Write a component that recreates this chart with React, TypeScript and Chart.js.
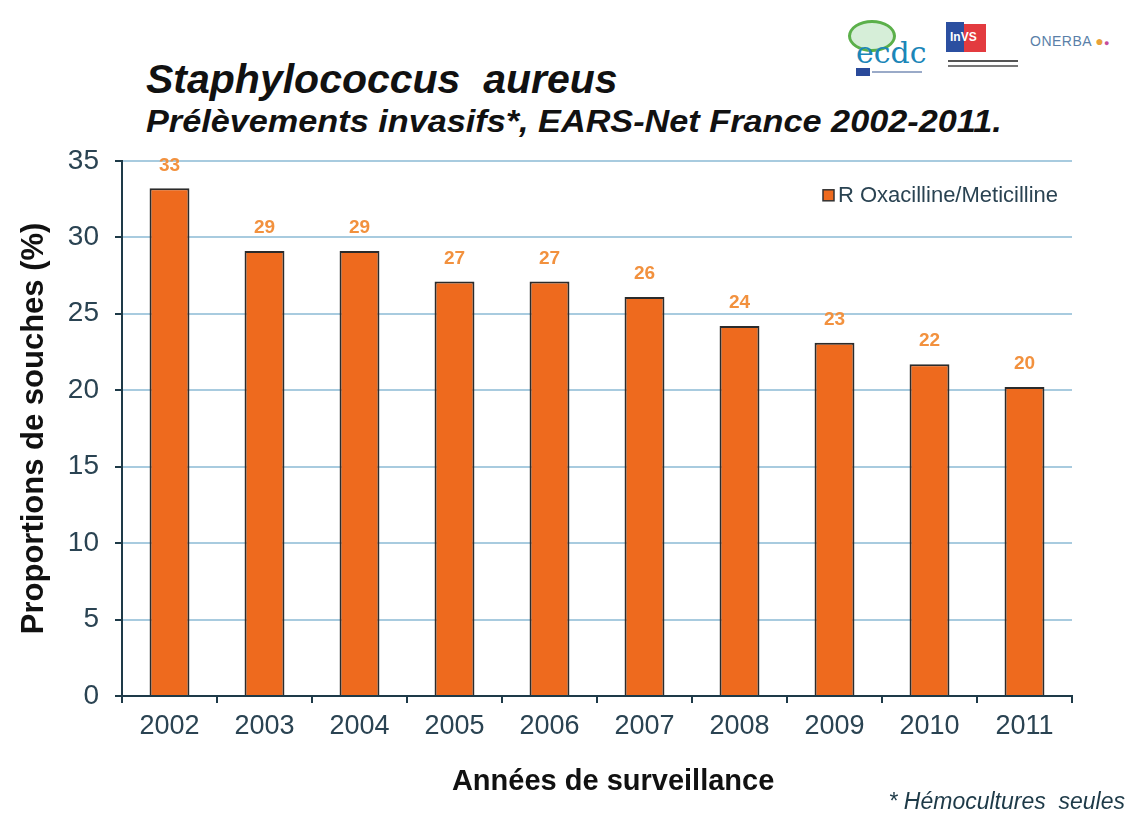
import React, { useEffect, useRef } from "react";
import { Chart, registerables } from "chart.js";

Chart.register(...registerables);

const years = ["2002", "2003", "2004", "2005", "2006", "2007", "2008", "2009", "2010", "2011"];
const resistance = [33.2, 29.1, 29.1, 27.1, 27.1, 26.1, 24.2, 23.1, 21.7, 20.2];
const valueLabels = ["33", "29", "29", "27", "27", "26", "24", "23", "22", "20"];
const seriesName = "R Oxacilline/Meticilline";
const yTicks = [0, 5, 10, 15, 20, 25, 30, 35];

const FONT = '"Liberation Sans", Arial, sans-serif';
const AXIS = "#1E3A48";
const TICKTXT = "#2A4352";
const BAR = "#EE6A1E";

const labelPlugin = {
  id: "valueLabels",
  afterDatasetsDraw(chart: any) {
    const ctx = chart.ctx;
    const meta = chart.getDatasetMeta(0);
    ctx.save();
    ctx.font = 'bold 19px "Liberation Sans Narrow", "Liberation Sans", Arial';
    ctx.fillStyle = "#F2913E";
    ctx.textAlign = "center";
    ctx.textBaseline = "middle";
    meta.data.forEach((el: any, i: number) => {
      ctx.fillText(valueLabels[i], el.x, el.y - 23);
    });
    ctx.restore();
  },
};

const legendPlugin = {
  id: "cornerLegend",
  afterDraw(chart: any) {
    const ctx = chart.ctx;
    const area = chart.chartArea;
    ctx.save();
    const x = area.right - 249;
    const y = area.top + 35;
    ctx.fillStyle = BAR;
    ctx.strokeStyle = "#333";
    ctx.lineWidth = 1.5;
    ctx.fillRect(x, y - 6, 11, 11);
    ctx.strokeRect(x, y - 6, 11, 11);
    ctx.font = `22px ${FONT}`;
    ctx.fillStyle = TICKTXT;
    ctx.textAlign = "left";
    ctx.textBaseline = "middle";
    ctx.fillText(seriesName, x + 15, y);
    ctx.restore();
  },
};

function BarChart() {
  const ref = useRef<HTMLCanvasElement | null>(null);
  useEffect(() => {
    if (!ref.current) return;
    const chart = new Chart(ref.current, {
      type: "bar",
      data: {
        labels: years,
        datasets: [
          {
            label: seriesName,
            data: resistance,
            backgroundColor: BAR,
            borderColor: "#2B2B2B",
            borderWidth: 2,
            categoryPercentage: 1,
            barPercentage: 0.42,
          },
        ],
      },
      options: {
        animation: false,
        responsive: false,
        devicePixelRatio: 1,
        layout: { padding: { top: 10, right: 58, bottom: 0, left: 0 } },
        plugins: { legend: { display: false }, tooltip: { enabled: false } },
        scales: {
          x: {
            afterFit: (s: any) => {
              s.height = 120;
            },
            grid: {
              display: true,
              drawOnChartArea: false,
              drawTicks: true,
              tickLength: 7,
              color: AXIS,
              lineWidth: 2,
              offset: true,
            },
            border: { display: true, color: AXIS, width: 2 },
            ticks: { color: TICKTXT, font: { family: FONT, size: 27 }, padding: 7 },
            title: {
              display: true,
              text: "    Années de surveillance",
              color: "#111",
              font: { family: FONT, size: 29, weight: "bold" },
              padding: { top: 0, bottom: 17 },
            },
          },
          y: {
            min: 0,
            max: 35,
            afterFit: (s: any) => {
              s.width = 122;
            },
            afterBuildTicks: (s: any) => {
              s.ticks = yTicks.map((v) => ({ value: v }));
            },
            grid: {
              color: "#A8CBDF",
              lineWidth: 2,
              tickColor: AXIS,
              tickLength: 7,
              tickWidth: 2,
            },
            border: { display: true, color: AXIS, width: 2 },
            ticks: { color: TICKTXT, font: { family: FONT, size: 28 }, padding: 16 },
            title: {
              display: true,
              text: "Proportions de souches (%)",
              color: "#111",
              font: { family: FONT, size: 31, weight: "bold" },
              padding: { top: 16, bottom: 0 },
            },
          },
        },
      },
      plugins: [labelPlugin, legendPlugin],
    } as any);
    return () => chart.destroy();
  }, []);
  return <canvas ref={ref} width={1130} height={688} />;
}

export default function App() {
  return (
    <div
      style={{
        position: "absolute",
        left: 0,
        top: 0,
        width: 1130,
        height: 816,
        background: "#fff",
        overflow: "hidden",
        fontFamily: FONT,
      }}
    >
      <div
        style={{
          position: "absolute",
          left: 146,
          top: 56,
          fontSize: 41,
          fontWeight: "bold",
          fontStyle: "italic",
          color: "#111",
          whiteSpace: "pre",
          lineHeight: "46px",
        }}
      >
        {"Staphylococcus  aureus"}
      </div>
      <div
        style={{
          position: "absolute",
          left: 146,
          top: 103,
          fontSize: 32,
          fontWeight: "bold",
          fontStyle: "italic",
          color: "#111",
          whiteSpace: "pre",
          lineHeight: "36px",
          transform: "scaleX(1.07)",
          transformOrigin: "left center",
        }}
      >
        {"Prélèvements invasifs*, EARS-Net France 2002-2011."}
      </div>
      {/* logos */}
      <div style={{ position: "absolute", left: 840, top: 18, width: 86, height: 58 }}>
        <div
          style={{
            position: "absolute",
            left: 8,
            top: 2,
            width: 42,
            height: 26,
            borderRadius: "50%",
            border: "3px solid #5BB04A",
            background: "#D6EED8",
          }}
        />
        <div
          style={{
            position: "absolute",
            left: 16,
            top: 20,
            fontSize: 30,
            color: "#1B86B8",
            fontFamily: '"DejaVu Serif", serif',
            lineHeight: "30px",
          }}
        >
          ecdc
        </div>
        <div style={{ position: "absolute", left: 16, top: 50, width: 14, height: 8, background: "#2A4A9A" }} />
        <div style={{ position: "absolute", left: 32, top: 53, width: 50, height: 2, background: "#9AAAC8" }} />
      </div>
      <div style={{ position: "absolute", left: 946, top: 22, width: 74, height: 48 }}>
        <div style={{ position: "absolute", left: 0, top: 0, width: 18, height: 30, background: "#2B4FA0" }} />
        <div style={{ position: "absolute", left: 18, top: 2, width: 22, height: 28, background: "#E33B3F" }} />
        <div
          style={{
            position: "absolute",
            left: 4,
            top: 8,
            fontSize: 12,
            color: "#fff",
            fontWeight: "bold",
          }}
        >
          InVS
        </div>
        <div style={{ position: "absolute", left: 2, top: 38, width: 70, height: 2, background: "#555" }} />
        <div style={{ position: "absolute", left: 2, top: 43, width: 70, height: 2, background: "#777" }} />
      </div>
      <div
        style={{
          position: "absolute",
          left: 1030,
          top: 33,
          fontSize: 14,
          color: "#5A7FA8",
          letterSpacing: "0.5px",
        }}
      >
        ONERBA
        <span style={{ color: "#E8A23A", marginLeft: 3 }}>●</span>
        <span style={{ color: "#C64C9A", fontSize: 9 }}>●</span>
      </div>
      <div style={{ position: "absolute", left: 0, top: 128 }}>
        <BarChart />
      </div>
      <div
        style={{
          position: "absolute",
          right: 5,
          top: 788,
          fontSize: 23,
          fontStyle: "italic",
          color: "#1E3A48",
          whiteSpace: "pre",
        }}
      >
        {"* Hémocultures  seules"}
      </div>
    </div>
  );
}
